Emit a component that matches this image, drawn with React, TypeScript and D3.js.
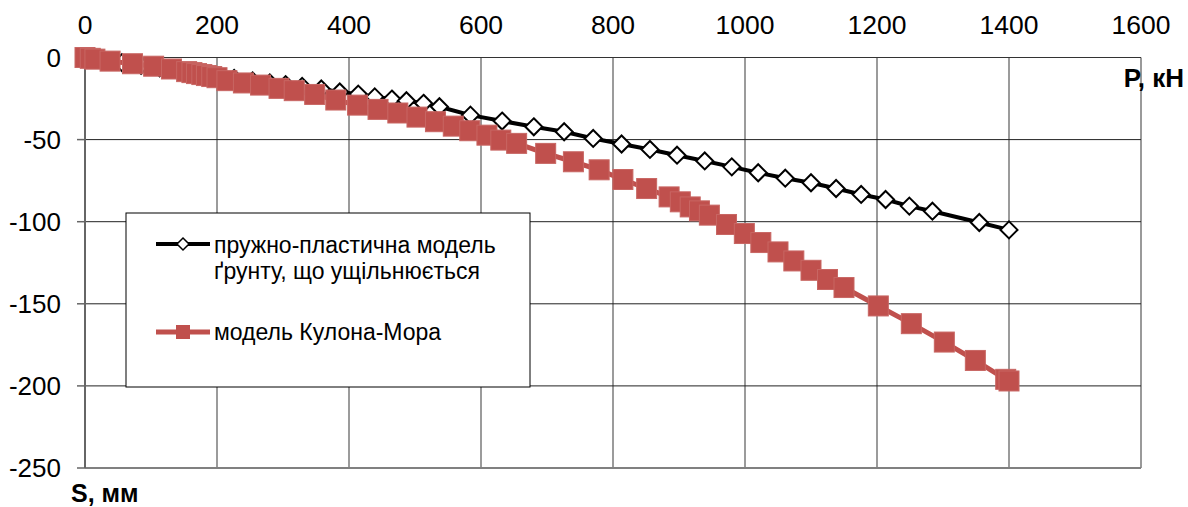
import React from "react";
import * as d3 from "d3";

// ---- data ----
const xTicks = [0, 200, 400, 600, 800, 1000, 1200, 1400, 1600];
const yTicks = [0, -50, -100, -150, -200, -250];

const elasticP = [0, 28, 56, 85, 113, 141, 170, 198, 226, 254, 280, 304, 329, 358, 386, 414, 439, 465, 487, 513, 537, 584, 632, 680, 726, 770, 813, 856, 897, 939, 980, 1020, 1061, 1100, 1138, 1176, 1213, 1249, 1284, 1355, 1400];
const elasticS = [0, -1.5, -3.1, -4.7, -6.3, -7.9, -9.5, -11, -12.7, -14.3, -15.5, -16.5, -17.6, -19.2, -21, -22.3, -24, -25.3, -26.3, -27.9, -30, -35.1, -38.7, -42.2, -45.2, -49.3, -52.7, -56, -59.5, -63, -66.6, -70.2, -73.5, -76.3, -79.8, -83.4, -86.5, -90.5, -93.6, -100.5, -105];

const mcP = [0, 8, 15, 38, 72, 104, 131, 154, 162, 169, 177, 184, 192, 200, 215, 240, 266, 294, 317, 348, 380, 413, 444, 474, 503, 531, 558, 583, 609, 630, 654, 698, 740, 779, 815, 851, 885, 902, 917, 931, 946, 972, 999, 1024, 1050, 1074, 1100, 1125, 1150, 1202, 1252, 1302, 1349, 1395, 1400];
const mcS = [0, -0.5, -1, -2.2, -3.8, -5.3, -7, -8.6, -9.2, -9.8, -10.4, -11, -11.6, -12.3, -14.1, -15.5, -16.8, -18.8, -20.2, -22.5, -25.9, -29, -31.6, -33.8, -36.3, -39.1, -41.8, -44.6, -47.3, -50.3, -52.3, -58.4, -63.5, -68.4, -74.3, -79.8, -84.9, -87.9, -91, -93.4, -96, -101.7, -107.2, -112.7, -118.4, -123.9, -129.6, -135.2, -140.1, -151.3, -162.1, -173.3, -184.5, -196, -197];

const legendLabels = ["пружно-пластична модель", "ґрунту, що ущільнюється", "модель Кулона-Мора"];
const xTitle = "P, кН";
const yTitle = "S, мм";

const RED = "#C0504D";
const FONT = "'Liberation Sans', Arial, sans-serif";

export default function App() {
  const W = 1188, H = 507;
  const x = d3.scaleLinear().domain([0, 1600]).range([85, 1141]);
  const y = d3.scaleLinear().domain([0, -250]).range([57.5, 468]);

  const black = elasticP.map((p, i) => [p, elasticS[i]] as [number, number]);
  const red = mcP.map((p, i) => [p, mcS[i]] as [number, number]);
  const line = d3.line<[number, number]>().x(d => x(d[0])).y(d => y(d[1]));

  const diamond = (cx: number, cy: number, r: number) =>
    `M${cx},${cy - r}L${cx + r},${cy}L${cx},${cy + r}L${cx - r},${cy}Z`;

  return (
    <div style={{ position: "absolute", left: 0, top: 0 }}>
      <svg width={W} height={H} style={{ display: "block", background: "#fff" }} fontFamily={FONT}>
        {/* vertical gridlines */}
        {xTicks.filter(t => t > 0).map(t => (
          <line key={"v" + t} x1={x(t)} x2={x(t)} y1={y(0)} y2={y(-250)}
            stroke={t === 1600 ? "#9a9a9a" : "#7a7a7a"} strokeWidth={t === 1600 ? 2 : 1.5} />
        ))}
        {/* horizontal gridlines */}
        {yTicks.map(t => (
          <line key={"h" + t} x1={x(0)} x2={x(1600)} y1={y(t)} y2={y(t)}
            stroke={t === -250 ? "#808080" : t === 0 ? "#333" : "#222"} strokeWidth={t === -250 ? 2 : 1} />
        ))}
        {/* left axis */}
        <line x1={x(0)} x2={x(0)} y1={y(0)} y2={y(-250)} stroke="#666" strokeWidth={2} />
        {yTicks.map(t => (
          <line key={"yt" + t} x1={x(0) - 8} x2={x(0)} y1={y(t)} y2={y(t)} stroke="#666" strokeWidth={1.5} />
        ))}
        {/* tick labels */}
        {xTicks.map(t => (
          <text key={"xl" + t} x={x(t)} y={34} textAnchor="middle" fontSize={26.5} fill="#000">{t}</text>
        ))}
        {yTicks.map(t => (
          <text key={"yl" + t} x={61} y={y(t) + 9} textAnchor="end" fontSize={26} fill="#000">{t}</text>
        ))}
        {/* axis titles */}
        <text x={1184} y={87} textAnchor="end" fontSize={26} fontWeight="bold" fill="#000">{xTitle}</text>
        <text x={71} y={502} fontSize={25} fontWeight="bold" fill="#000">{yTitle}</text>

        {/* black series */}
        <path d={line(black) || ""} fill="none" stroke="#000" strokeWidth={4} strokeLinejoin="round" />
        {black.map((d, i) => (
          <path key={"b" + i} d={diamond(x(d[0]), y(d[1]), 8.5)} fill="#fff" stroke="#000" strokeWidth={2} />
        ))}
        {/* red series */}
        <path d={line(red) || ""} fill="none" stroke={RED} strokeWidth={5} strokeLinejoin="round" />
        {red.map((d, i) => (
          <rect key={"r" + i} x={x(d[0]) - 10} y={y(d[1]) - 10} width={20} height={20}
            fill={RED} stroke="#c86663" strokeWidth={1} />
        ))}

        {/* legend */}
        <rect x={126} y={213} width={404} height={174} fill="#fff" stroke="#000" strokeWidth={1} />
        <line x1={156} x2={210} y1={244} y2={244} stroke="#000" strokeWidth={4} />
        <path d={diamond(183, 244, 6)} fill="#fff" stroke="#000" strokeWidth={1.5} />
        <text x={214} y={253} fontSize={23} fill="#000">{legendLabels[0]}</text>
        <text x={214} y={279} fontSize={23} fill="#000">{legendLabels[1]}</text>
        <line x1={156} x2={210} y1={332} y2={332} stroke={RED} strokeWidth={5} />
        <rect x={176} y={325} width={14} height={14} fill={RED} />
        <text x={214} y={340} fontSize={23} fill="#000">{legendLabels[2]}</text>
      </svg>
    </div>
  );
}
